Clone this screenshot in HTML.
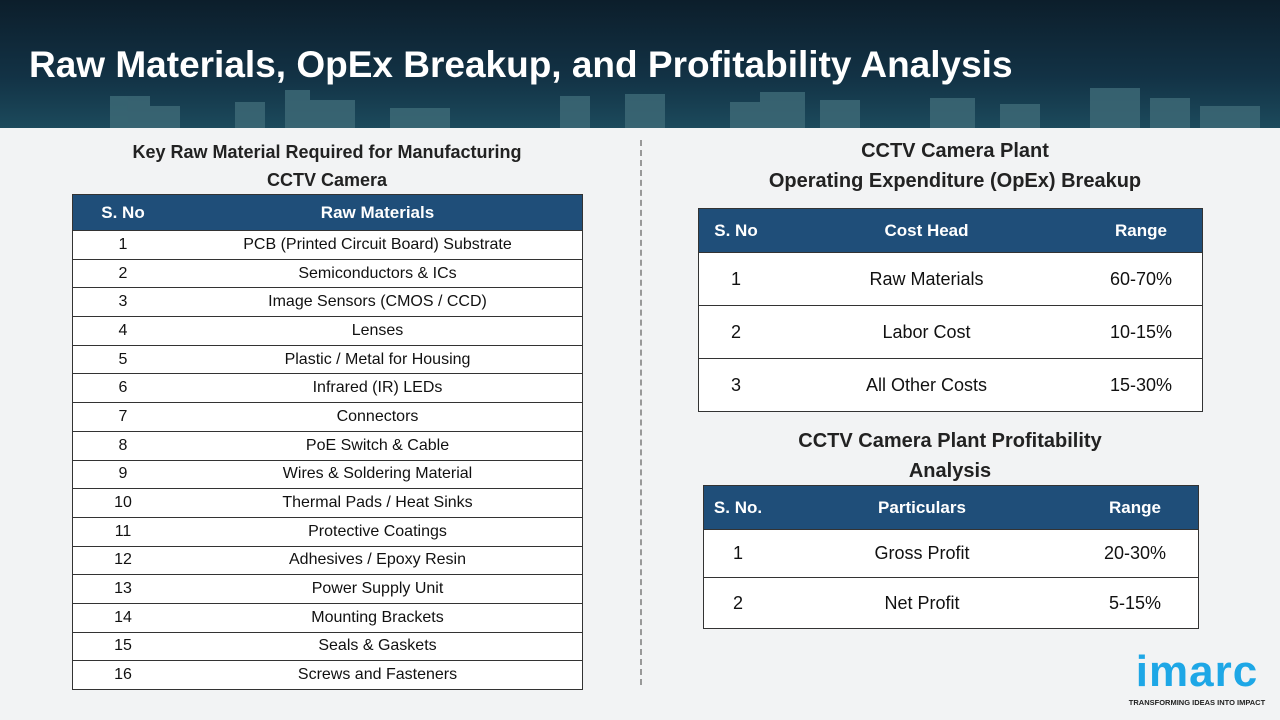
<!DOCTYPE html>
<html><head><meta charset="utf-8"><style>
body{margin:0;width:1280px;height:720px;overflow:hidden;font-family:"Liberation Sans","DejaVu Sans",sans-serif;background:#f2f3f4;position:relative}
.hdr{position:absolute;left:0;top:0;width:1280px;height:128px;background:linear-gradient(180deg,#0c1e2b 0%,#123245 60%,#1c4a5c 100%)}
.hdr h1{position:absolute;left:29px;top:44px;margin:0;color:#fff;font-size:37px;font-weight:bold;letter-spacing:0px}
.city{position:absolute;left:0;top:88px;width:1280px;height:40px}
.t{position:absolute;font-weight:bold;color:#222;text-align:center;font-size:18px;line-height:28px}
table{position:absolute;border-collapse:collapse;background:#fff;border:1px solid #333}
th{background:#1f4e79;color:#fff;font-weight:bold;font-size:17px;border:none}
td{border-top:1px solid #333;border-bottom:1px solid #333;border-left:none;border-right:none;text-align:center;color:#111;font-size:16px;padding:0}
.div{position:absolute;left:640px;top:140px;height:545px;border-left:2px dashed #999}
</style></head><body>
<div class="hdr">
<svg class="city" viewBox="0 0 1280 40" preserveAspectRatio="none">
<g fill="#3f6b78" opacity="0.8">
<rect x="110" y="8" width="40" height="32"/><rect x="150" y="18" width="30" height="22"/><rect x="235" y="14" width="30" height="26"/><rect x="285" y="2" width="25" height="38"/><rect x="310" y="12" width="45" height="28"/><rect x="390" y="20" width="60" height="20"/><rect x="560" y="8" width="30" height="32"/><rect x="625" y="6" width="40" height="34"/><rect x="730" y="14" width="30" height="26"/><rect x="760" y="4" width="45" height="36"/><rect x="820" y="12" width="40" height="28"/><rect x="930" y="10" width="45" height="30"/><rect x="1000" y="16" width="40" height="24"/><rect x="1090" y="0" width="50" height="40"/><rect x="1150" y="10" width="40" height="30"/><rect x="1200" y="18" width="60" height="22"/>
</g></svg>
<h1>Raw Materials, OpEx Breakup, and Profitability Analysis</h1>
</div>
<div class="div"></div>

<div class="t" style="left:72px;top:138px;width:600px;margin-left:-45px">Key Raw Material Required for Manufacturing<br>CCTV Camera</div>
<table style="left:72px;top:194px;width:511px">
<tr style="height:36px"><th style="width:98px">S. No</th><th>Raw Materials</th></tr>
<tbody id="rm"></tbody></table>

<div class="t" style="left:700px;top:136px;width:510px;font-size:20px;line-height:30px">CCTV Camera Plant<br>Operating Expenditure (OpEx) Breakup</div>
<table style="left:698px;top:208px;width:505px">
<tr style="height:44px"><th style="width:72px">S. No</th><th>Cost Head</th><th style="width:120px">Range</th></tr>
<tr style="height:53px"><td style="font-size:18px">1</td><td style="font-size:18px">Raw Materials</td><td style="font-size:18px">60-70%</td></tr>
<tr style="height:53px"><td style="font-size:18px">2</td><td style="font-size:18px">Labor Cost</td><td style="font-size:18px">10-15%</td></tr>
<tr style="height:53px"><td style="font-size:18px">3</td><td style="font-size:18px">All Other Costs</td><td style="font-size:18px">15-30%</td></tr>
</table>

<div class="t" style="left:700px;top:426px;width:500px;font-size:20px;line-height:30px">CCTV Camera Plant Profitability<br>Analysis</div>
<table style="left:703px;top:485px;width:496px">
<tr style="height:44px"><th style="width:66px">S. No.</th><th>Particulars</th><th style="width:124px">Range</th></tr>
<tr style="height:48px"><td style="font-size:18px">1</td><td style="font-size:18px">Gross Profit</td><td style="font-size:18px">20-30%</td></tr>
<tr style="height:51px"><td style="font-size:18px">2</td><td style="font-size:18px">Net Profit</td><td style="font-size:18px">5-15%</td></tr>
</table>

<div style="position:absolute;left:1122px;top:650px;width:150px;text-align:center">
<div style="color:#1ea7e6;font-size:44px;font-weight:bold;line-height:44px;letter-spacing:1px">imarc</div>
<div style="font-size:7.5px;font-weight:bold;color:#222;margin-top:4px">TRANSFORMING IDEAS INTO IMPACT</div>
</div>
<script>
const materials=["PCB (Printed Circuit Board) Substrate","Semiconductors & ICs","Image Sensors (CMOS / CCD)","Lenses","Plastic / Metal for Housing","Infrared (IR) LEDs","Connectors","PoE Switch & Cable","Wires & Soldering Material","Thermal Pads / Heat Sinks","Protective Coatings","Adhesives / Epoxy Resin","Power Supply Unit","Mounting Brackets","Seals & Gaskets","Screws and Fasteners"];
const tb=document.getElementById('rm');
materials.forEach((m,i)=>{
const tr=document.createElement('tr');tr.style.height='28.7px';


tr.innerHTML='<td>'+(i+1)+'</td><td></td>';tr.children[1].textContent=m;tb.appendChild(tr);});
</script>
</body></html>
